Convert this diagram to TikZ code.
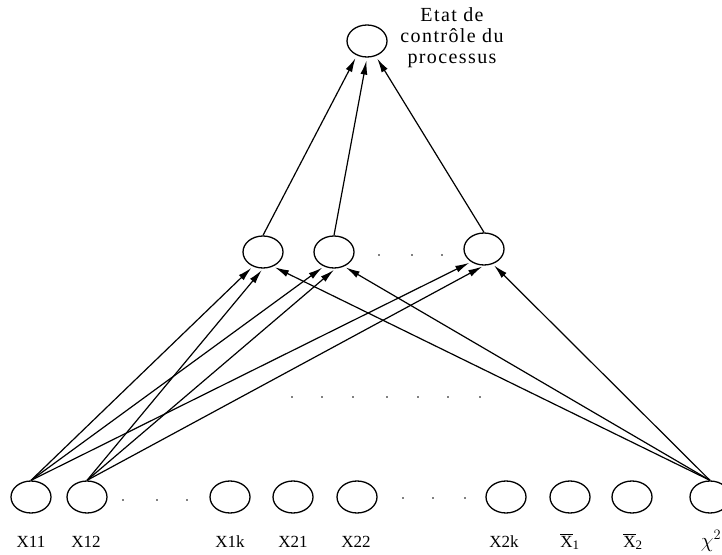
\documentclass[tikz,border=0pt]{standalone}
\usepackage{fontspec}
\setmainfont{Liberation Serif}
\usetikzlibrary{shapes.geometric,arrows.meta}
\tikzset{
  neurone/.style={ellipse,draw,line width=1.3pt,minimum width=40pt,minimum height=32pt,inner sep=0pt},
  fleche/.style={line width=1.2pt,-{Latex[length=14pt,width=7pt]},shorten >=2pt},
  etiq/.style={anchor=base,font=\fontsize{17}{19}\selectfont}
}
\begin{document}
\begin{tikzpicture}[x=1pt,y=1pt]
        \useasboundingbox (0,0) rectangle (722,554);
        %sortie
        \node[neurone] (out) at (367,513) {};
        \node[align=center,font=\fontsize{20}{21}\selectfont\addfontfeatures{LetterSpace=7}] (titre) at (452,516) {Etat de\\contrôle du\\processus};
        %couche cachee
        \node[neurone] (h1) at (263,302) {};
        \node[neurone] (h2) at (334,302) {};
        \node[neurone] (h3) at (484,305) {};
        %entrees
        \node[neurone] (x11) at (31,57) {};
        \node[neurone] (x12) at (87,57) {};
        \node[neurone] (x1k) at (230,57) {};
        \node[neurone] (x21) at (293,57) {};
        \node[neurone] (x22) at (357,57) {};
        \node[neurone] (x2k) at (506,57) {};
        \node[neurone] (m1) at (570,57) {};
        \node[neurone] (m2) at (632,57) {};
        \node[neurone] (chi) at (710,57) {};
        %label
        \node[etiq] (lx11) at (31,7) {X11};
        \node[etiq] (lx12) at (86,7) {X12};
        \node[etiq] (lx1k) at (230,7) {X1k};
        \node[etiq] (lx21) at (293,7) {X21};
        \node[etiq] (lx22) at (356,7) {X22};
        \node[etiq] (lx2k) at (504,7) {X2k};
        \node[etiq] (lm1) at (570,7) {$\overline{\mbox{X}}_{\mbox{\fontsize{13}{13}\selectfont 1}}$};
        \node[etiq] (lm2) at (633,7) {$\overline{\mbox{X}}_{\mbox{\fontsize{13}{13}\selectfont 2}}$};
        \node[etiq,font=\fontsize{22}{24}\selectfont] (lchi) at (711,7) {$\chi^2$};
        %pointilles
        \fill (123,54) circle (0.9) (157,54) circle (0.9) (187,54) circle (0.9);
        \fill (403,56) circle (0.9) (433,56) circle (0.9) (465,56) circle (0.9);
        \fill (379,299) circle (0.9) (412,299) circle (0.9) (442,299) circle (0.9);
        \fill (292,157) circle (0.9) (322,157) circle (0.9) (353,157) circle (0.9) (387,157) circle (0.9)
              (418,157) circle (0.9) (448,157) circle (0.9) (480,157) circle (0.9);
        %entrees -> couche cachee
        \draw[fleche] (x11.north) -- (h1.235);
        \draw[fleche] (x11.north) -- (h2.235);
        \draw[fleche] (x11.north) -- (h3.225);
        \draw[fleche] (x12.north) -- (h1.270);
        \draw[fleche] (x12.north) -- (h2.275);
        \draw[fleche] (x12.north) -- (h3.270);
        \draw[fleche] (chi.north) -- (h1.305);
        \draw[fleche] (chi.north) -- (h2.305);
        \draw[fleche] (chi.north) -- (h3.300);
        %couche cachee -> sortie
        \draw[fleche,shorten >=3pt] (h1.north) -- (out.235);
        \draw[fleche,shorten >=3pt] (h2.north) -- (out.270);
        \draw[fleche,shorten >=3pt] (h3.north) -- (out.300);
\end{tikzpicture}
\end{document}
